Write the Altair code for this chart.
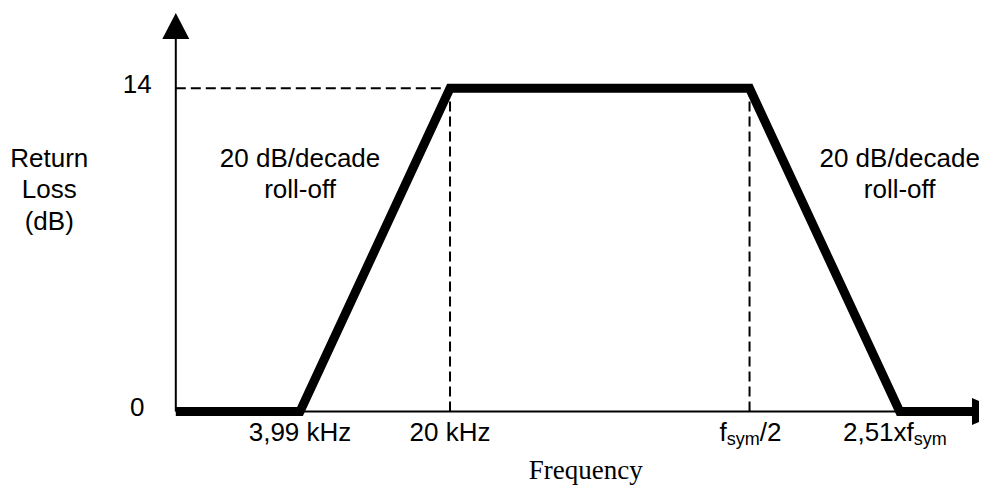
import altair as alt
import pandas as pd

# ---- data (frequencies in kHz, levels in dB) ----
mask_freq = [1.05, 3.99, 20, 500, 2510, 5460]
mask_db = [0, 0, 14, 14, 0, 0]

# dashed guide lines
guide_x = [1.05, 20, 500]
guide_x2 = [20, 20, 500]
guide_y = [14, 0, 0]
guide_y2 = [14, 14, 14]

# axes
origin_f = 1.05
x_axis_end = 5460
x_arrow_f = 6449
y_axis_top = 16.14
y_arrow_db = 16.70

# labels
xtick_text = ["3,99 kHz", "20 kHz"]
xtick_f = [3.99, 20]
ytick_text = ["14", "0"]
ytick_db = [14, 0]
block_text = [["Return", "Loss", "(dB)"], ["20 dB/decade", "roll-off"], ["20 dB/decade", "roll-off"]]
block_f = [0.2695, 3.99, 2510]
block_db = [10.6, 10.6, 10.6]
fsym_half_f = 500
fsym_251_f = 2510
freq_title_f = 86

W, H = 971, 478
FONT = "Liberation Sans"
FS = 26
SUB = 18

xs = alt.Scale(type="log", domain=[0.173, 5887], nice=False, zero=False)
ys = alt.Scale(domain=[-3.2271, 17.4783], nice=False, zero=False)

def X(f="x"):
    return alt.X(f"{f}:Q", scale=xs, axis=None)

def Y(f="y"):
    return alt.Y(f"{f}:Q", scale=ys, axis=None)

mask_df = pd.DataFrame({"x": mask_freq, "y": mask_db})
guide_df = pd.DataFrame({"x": guide_x, "x2": guide_x2, "y": guide_y, "y2": guide_y2})

axes_df = pd.DataFrame({"x": [origin_f, origin_f], "x2": [x_axis_end, origin_f],
                        "y": [0, 0], "y2": [0, y_axis_top]})

axes = alt.Chart(axes_df).mark_rule(color="black", strokeWidth=2).encode(
    x=X(), x2="x2:Q", y=Y(), y2="y2:Q")

up_arrow = alt.Chart(pd.DataFrame({"x": [origin_f], "y": [y_arrow_db]})).mark_point(
    shape="M0,-0.963L1,0.963L-1,0.963Z", size=729, filled=True, color="black", opacity=1,
    strokeWidth=0).encode(x=X(), y=Y())
right_arrow = alt.Chart(pd.DataFrame({"x": [x_arrow_f], "y": [0]})).mark_point(
    shape="M-1,-0.871L1,0L-1,0.871Z", size=961, filled=True, color="black", opacity=1,
    strokeWidth=0).encode(x=X(), y=Y())

guides = alt.Chart(guide_df).mark_rule(color="black", strokeWidth=2, strokeDash=[10, 5]).encode(
    x=X(), x2="x2:Q", y=Y(), y2="y2:Q")

mask = alt.Chart(mask_df).mark_line(color="black", strokeWidth=9, strokeCap="butt",
                                    strokeJoin="miter").encode(x=X(), y=Y())

xticks = alt.Chart(pd.DataFrame({"x": xtick_f, "y": [0, 0], "t": xtick_text})).mark_text(
    font=FONT, fontSize=FS, align="center", baseline="alphabetic", dy=29.5, color="black"
).encode(x=X(), y=Y(), text="t:N")

yticks = alt.Chart(pd.DataFrame({"x": [origin_f, origin_f], "y": ytick_db, "t": ytick_text})).mark_text(
    font=FONT, fontSize=FS, align="center", baseline="alphabetic", dx=-38.5, dy=4.5, color="black"
).encode(x=X(), y=Y(), text="t:N")

blocks = alt.Chart(pd.DataFrame({"x": block_f, "y": block_db, "t": block_text})).mark_text(
    font=FONT, fontSize=FS, align="center", baseline="alphabetic", lineHeight=31.7, color="black"
).encode(x=X(), y=Y(), text="t:N")

def piece(f, text, dx, dy, size):
    return alt.Chart(pd.DataFrame({"x": [f], "y": [0], "t": [text]})).mark_text(
        font=FONT, fontSize=size, align="left", baseline="alphabetic", dx=dx, dy=dy, color="black"
    ).encode(x=X(), y=Y(), text="t:N")

sub_pieces = [
    piece(fsym_half_f, "f", -30, 29.5, FS),
    piece(fsym_half_f, "sym", -22.8, 33.5, SUB),
    piece(fsym_half_f, "/2", 10.2, 29.5, FS),
    piece(fsym_251_f, "2,51xf", -56.7, 29.5, FS),
    piece(fsym_251_f, "sym", 14.1, 33.5, SUB),
]

freq_title = alt.Chart(pd.DataFrame({"x": [freq_title_f], "y": [0], "t": ["Frequency"]})).mark_text(
    font="Liberation Serif", fontSize=27, align="center", baseline="alphabetic", dy=67.5, color="black"
).encode(x=X(), y=Y(), text="t:N")

chart = alt.layer(axes, guides, mask, up_arrow, right_arrow, xticks, yticks, blocks,
                  *sub_pieces, freq_title).properties(
    width=W, height=H, padding=0, background="white",
    autosize=alt.AutoSizeParams(type="none"),
).configure_view(stroke="transparent", strokeWidth=0)

chart.save("out.html", embed_options={"renderer": "svg", "actions": False})
